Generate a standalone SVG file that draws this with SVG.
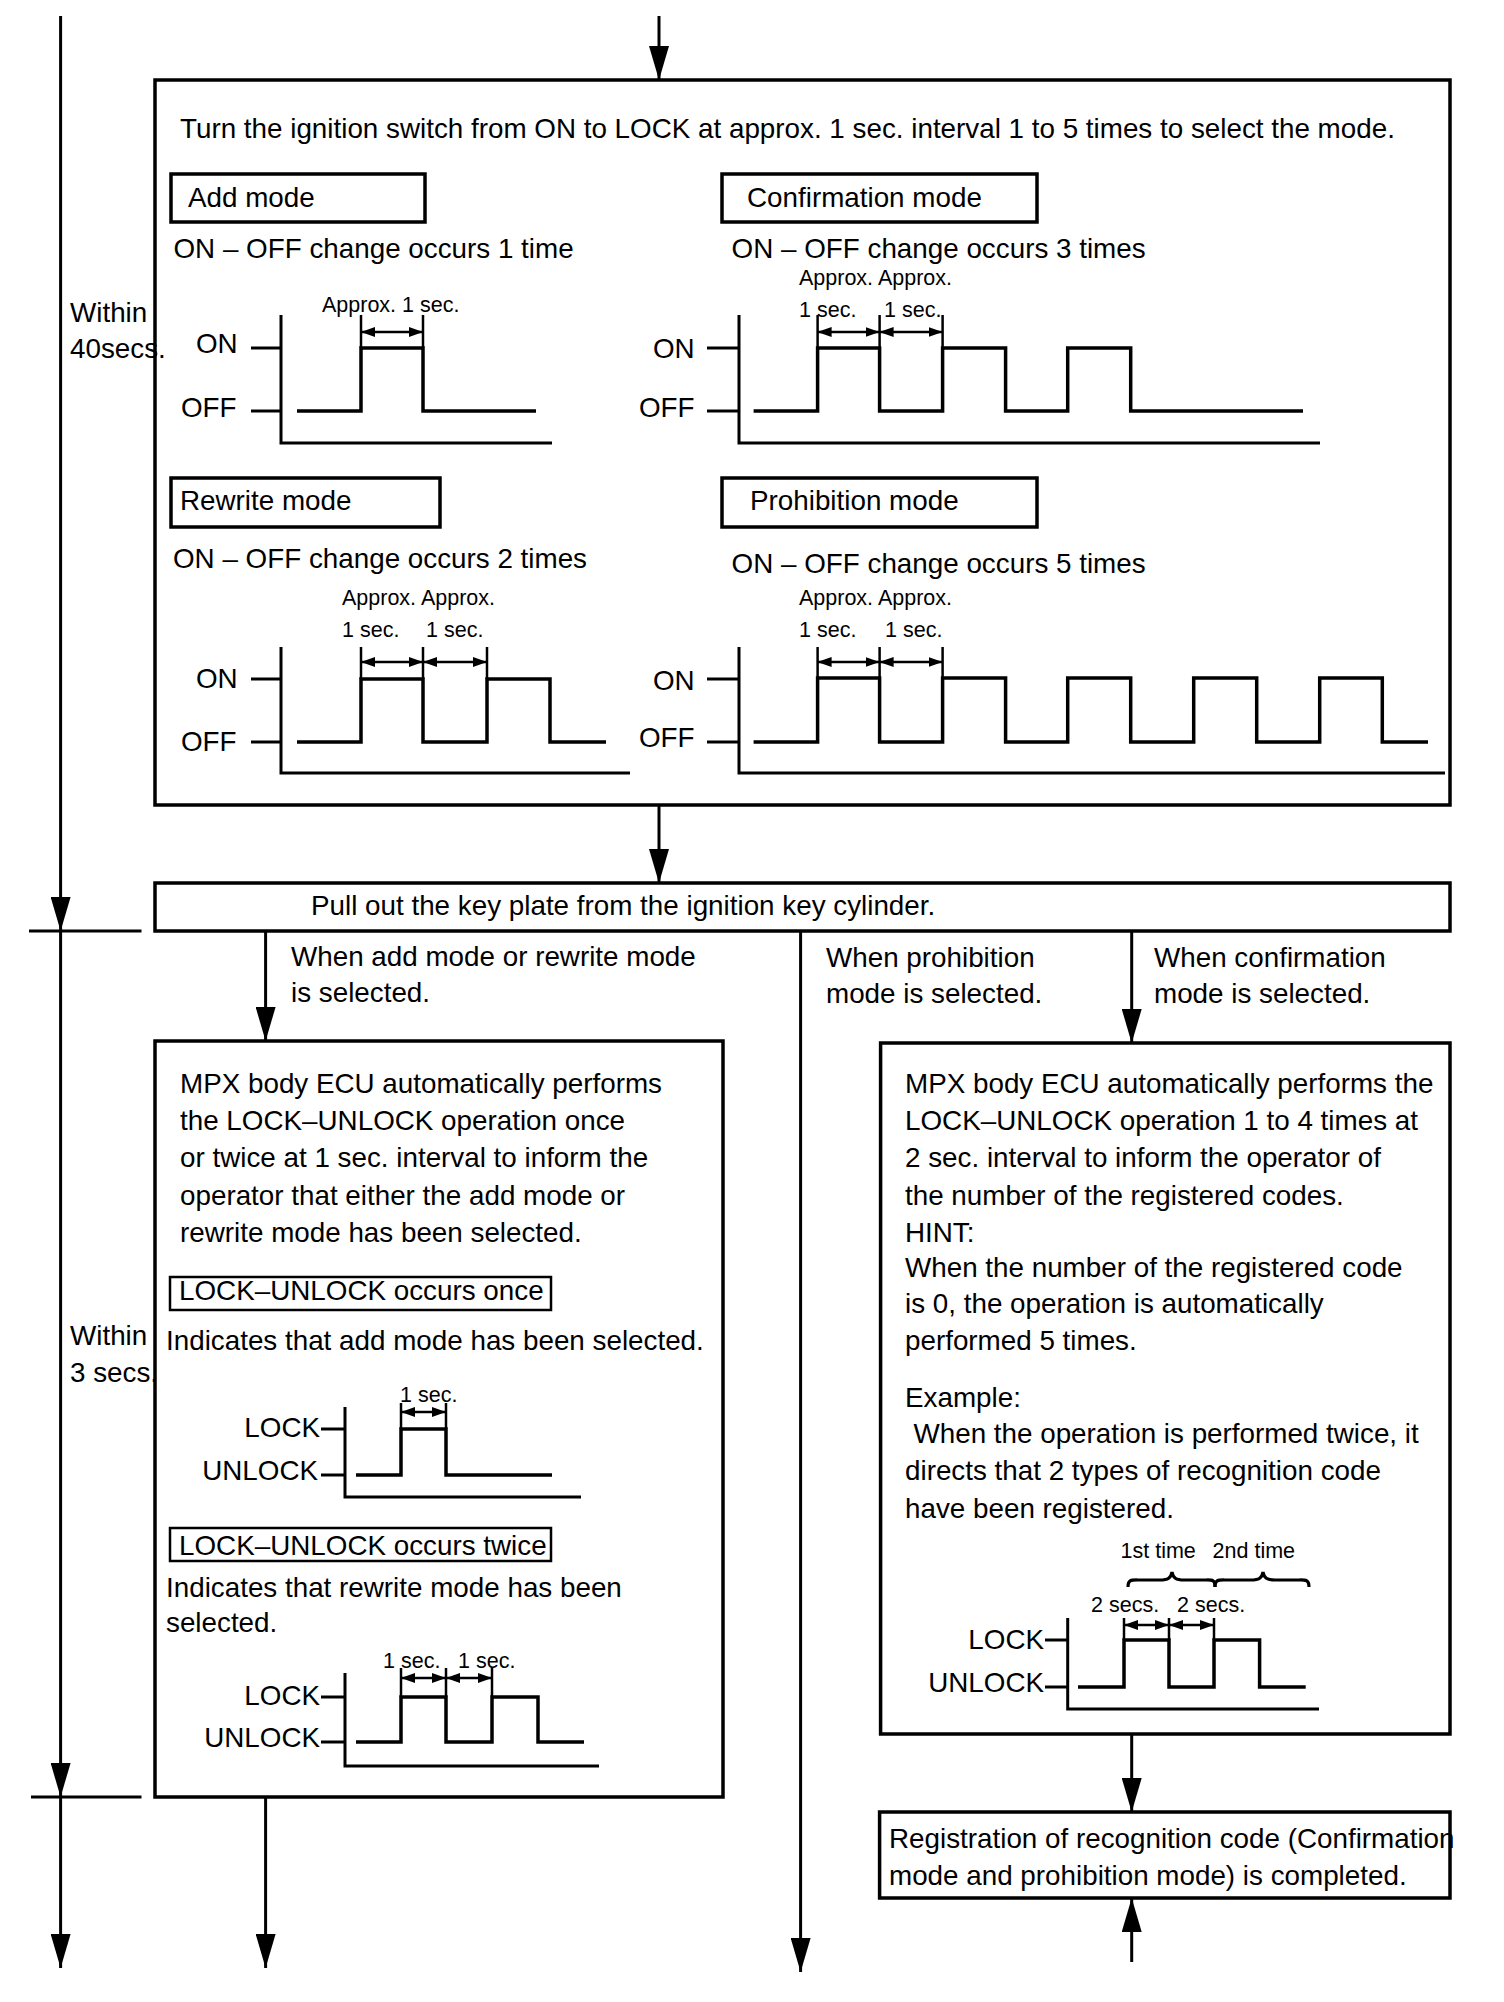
<svg xmlns="http://www.w3.org/2000/svg" width="1504" height="2002" viewBox="0 0 1504 2002">
<style>
text{font-family:"Liberation Sans",Arial,Helvetica,sans-serif;font-size:27.8px;fill:#000}
.s{font-size:21.5px}
.box{fill:none;stroke:#000;stroke-width:3.5}
.mbox{fill:none;stroke:#000;stroke-width:3.5}
.lbox{fill:none;stroke:#000;stroke-width:2.5}
.ln{fill:none;stroke:#000;stroke-width:3}
.ax{fill:none;stroke:#000;stroke-width:3}
.wv{fill:none;stroke:#000;stroke-width:3.5}
.dim{fill:none;stroke:#000;stroke-width:2.5}
.br{fill:none;stroke:#000;stroke-width:3.2}
.da{fill:none;stroke:#000;stroke-width:2.5;marker-start:url(#sa);marker-end:url(#sa)}
.arr{fill:none;stroke:#000;stroke-width:3;marker-end:url(#ah)}
</style>
<defs>
<marker id="ah" viewBox="0 0 34 20" refX="34" refY="10" markerWidth="34" markerHeight="20" markerUnits="userSpaceOnUse" orient="auto">
<path d="M0,0 L34,10 L0,20 z" fill="#000"/>
</marker>
<marker id="sa" viewBox="0 0 14 10" refX="14" refY="5" markerWidth="14" markerHeight="10" markerUnits="userSpaceOnUse" orient="auto-start-reverse">
<path d="M0,0 L14,5 L0,10 z" fill="#000"/>
</marker>
</defs>
<rect width="1504" height="2002" fill="#fff"/>

<g id="connectors">
<line class="arr" x1="60.6" y1="16" x2="60.6" y2="931"/>
<line class="arr" x1="60.6" y1="931" x2="60.6" y2="1797"/>
<line class="arr" x1="60.6" y1="1797" x2="60.6" y2="1968"/>
<line class="ln" x1="29" y1="931" x2="141.5" y2="931"/>
<line class="ln" x1="31" y1="1797" x2="141.5" y2="1797"/>
<line class="arr" x1="659" y1="16" x2="659" y2="80"/>
<line class="arr" x1="659" y1="805" x2="659" y2="883"/>
<line class="arr" x1="265.6" y1="931" x2="265.6" y2="1041"/>
<line class="arr" x1="1131.7" y1="931" x2="1131.7" y2="1043"/>
<line class="arr" x1="800.6" y1="931" x2="800.6" y2="1972"/>
<line class="arr" x1="265.6" y1="1797" x2="265.6" y2="1968"/>
<line class="arr" x1="1131.7" y1="1734" x2="1131.7" y2="1812"/>
<line class="arr" x1="1131.7" y1="1962" x2="1131.7" y2="1898"/>
</g>

<g id="timing-labels">
<text x="70" y="322">Within</text>
<text x="70" y="358">40secs.</text>
<text x="70" y="1345">Within</text>
<text x="70" y="1382">3 secs.</text>
</g>

<g id="select-mode">
<rect class="box" x="155" y="80" width="1295" height="725"/>
<text x="180" y="138">Turn the ignition switch from ON to LOCK at approx. 1 sec. interval 1 to 5 times to select the mode.</text>

<g id="add-mode">
<rect class="mbox" x="171" y="174" width="254" height="48"/>
<text x="188" y="207">Add mode</text>
<text x="173.5" y="258">ON – OFF change occurs 1 time</text>
<text class="s" x="322" y="312">Approx. 1 sec.</text>
<text x="196" y="353">ON</text>
<text x="181" y="417">OFF</text>
<polyline class="ax" points="281,315 281,443 552,443"/>
<line class="ax" x1="251" y1="348" x2="281" y2="348"/>
<line class="ax" x1="251" y1="411" x2="281" y2="411"/>
<polyline class="wv" points="297,411 361,411 361,348 423,348 423,411 536,411"/>
<line class="dim" x1="361" y1="315" x2="361" y2="348"/>
<line class="dim" x1="423" y1="315" x2="423" y2="348"/>
<line class="da" x1="361" y1="332" x2="423" y2="332"/>
</g>

<g id="confirmation-mode">
<rect class="mbox" x="722" y="174" width="315" height="48"/>
<text x="747" y="207">Confirmation mode</text>
<text x="731.6" y="258">ON – OFF change occurs 3 times</text>
<text class="s" x="799" y="285">Approx. Approx.</text>
<text class="s" x="799" y="317">1 sec.</text>
<text class="s" x="884" y="317">1 sec.</text>
<text x="653" y="358">ON</text>
<text x="639" y="417">OFF</text>
<polyline class="ax" points="739,315 739,443 1320,443"/>
<line class="ax" x1="707" y1="348" x2="739" y2="348"/>
<line class="ax" x1="707" y1="411" x2="739" y2="411"/>
<polyline class="wv" points="753.6,411 817.6,411 817.6,348 879.6,348 879.6,411 942.6,411 942.6,348 1005.6,348 1005.6,411 1067.7,411 1067.7,348 1130.7,348 1130.7,411 1303,411"/>
<line class="dim" x1="817.6" y1="315" x2="817.6" y2="348"/>
<line class="dim" x1="879.6" y1="315" x2="879.6" y2="348"/>
<line class="dim" x1="942.6" y1="315" x2="942.6" y2="348"/>
<line class="da" x1="817.6" y1="332" x2="879.6" y2="332"/>
<line class="da" x1="879.6" y1="332" x2="942.6" y2="332"/>
</g>

<g id="rewrite-mode">
<rect class="mbox" x="171" y="478" width="269" height="49"/>
<text x="180" y="510">Rewrite mode</text>
<text x="173" y="568">ON – OFF change occurs 2 times</text>
<text class="s" x="342" y="605">Approx. Approx.</text>
<text class="s" x="342" y="637">1 sec.</text>
<text class="s" x="426" y="637">1 sec.</text>
<text x="196" y="688">ON</text>
<text x="181" y="751">OFF</text>
<polyline class="ax" points="281,647 281,773 630,773"/>
<line class="ax" x1="251" y1="679" x2="281" y2="679"/>
<line class="ax" x1="251" y1="742" x2="281" y2="742"/>
<polyline class="wv" points="297,742 361,742 361,679 423,679 423,742 487,742 487,679 550,679 550,742 606,742"/>
<line class="dim" x1="361" y1="647" x2="361" y2="679"/>
<line class="dim" x1="423" y1="647" x2="423" y2="679"/>
<line class="dim" x1="487" y1="647" x2="487" y2="679"/>
<line class="da" x1="361" y1="662" x2="423" y2="662"/>
<line class="da" x1="423" y1="662" x2="487" y2="662"/>
</g>

<g id="prohibition-mode">
<rect class="mbox" x="722" y="478" width="315" height="49"/>
<text x="750" y="510">Prohibition mode</text>
<text x="731.6" y="573">ON – OFF change occurs 5 times</text>
<text class="s" x="799" y="605">Approx. Approx.</text>
<text class="s" x="799" y="637">1 sec.</text>
<text class="s" x="885" y="637">1 sec.</text>
<text x="653" y="690">ON</text>
<text x="639" y="747">OFF</text>
<polyline class="ax" points="739,647 739,773 1445,773"/>
<line class="ax" x1="707" y1="679" x2="739" y2="679"/>
<line class="ax" x1="707" y1="742" x2="739" y2="742"/>
<polyline class="wv" points="753.6,742 817.6,742 817.6,678 879.6,678 879.6,742 942.6,742 942.6,678 1005.6,678 1005.6,742 1067.7,742 1067.7,678 1130.7,678 1130.7,742 1193.7,742 1193.7,678 1256.7,678 1256.7,742 1319.7,742 1319.7,678 1382.3,678 1382.3,742 1428,742"/>
<line class="dim" x1="817.6" y1="647" x2="817.6" y2="678"/>
<line class="dim" x1="879.6" y1="647" x2="879.6" y2="678"/>
<line class="dim" x1="942.6" y1="647" x2="942.6" y2="678"/>
<line class="da" x1="817.6" y1="662" x2="879.6" y2="662"/>
<line class="da" x1="879.6" y1="662" x2="942.6" y2="662"/>
</g>
</g>

<g id="pull-out">
<rect class="box" x="155" y="883" width="1295" height="48"/>
<text x="311" y="915">Pull out the key plate from the ignition key cylinder.</text>
</g>

<g id="branch-labels">
<text x="291" y="966">When add mode or rewrite mode</text>
<text x="291" y="1002">is selected.</text>
<text x="826" y="967">When prohibition</text>
<text x="826" y="1003">mode is selected.</text>
<text x="1154" y="967">When confirmation</text>
<text x="1154" y="1003">mode is selected.</text>
</g>

<g id="add-rewrite-result">
<rect class="box" x="155" y="1041" width="568" height="756"/>
<text x="180" y="1093">MPX body ECU automatically performs</text>
<text x="180" y="1130">the LOCK–UNLOCK operation once</text>
<text x="180" y="1167">or twice at 1 sec. interval to inform the</text>
<text x="180" y="1205">operator that either the add mode or</text>
<text x="180" y="1242">rewrite mode has been selected.</text>
<rect class="lbox" x="170" y="1277" width="381" height="33"/>
<text x="179" y="1300">LOCK–UNLOCK occurs once</text>
<text x="166" y="1350">Indicates that add mode has been selected.</text>
<text class="s" x="400" y="1402">1 sec.</text>
<text x="320" y="1437" text-anchor="end">LOCK</text>
<text x="318" y="1480" text-anchor="end">UNLOCK</text>
<polyline class="ax" points="345,1407 345,1497 581,1497"/>
<line class="ax" x1="321" y1="1429" x2="345" y2="1429"/>
<line class="ax" x1="321" y1="1475" x2="345" y2="1475"/>
<polyline class="wv" points="356,1475 401,1475 401,1429 446,1429 446,1475 552,1475"/>
<line class="dim" x1="401" y1="1403" x2="401" y2="1429"/>
<line class="dim" x1="446" y1="1403" x2="446" y2="1429"/>
<line class="da" x1="401" y1="1412" x2="446" y2="1412"/>
<rect class="lbox" x="170" y="1528" width="381" height="33"/>
<text x="179" y="1555">LOCK–UNLOCK occurs twice</text>
<text x="166" y="1597">Indicates that rewrite mode has been</text>
<text x="166" y="1632">selected.</text>
<text class="s" x="383" y="1668">1 sec.</text>
<text class="s" x="458" y="1668">1 sec.</text>
<text x="320" y="1705" text-anchor="end">LOCK</text>
<text x="320" y="1747" text-anchor="end">UNLOCK</text>
<polyline class="ax" points="345,1673 345,1766 599,1766"/>
<line class="ax" x1="321" y1="1697" x2="345" y2="1697"/>
<line class="ax" x1="321" y1="1742" x2="345" y2="1742"/>
<polyline class="wv" points="356,1742 401,1742 401,1697 446,1697 446,1742 492,1742 492,1697 538,1697 538,1742 584,1742"/>
<line class="dim" x1="401" y1="1668" x2="401" y2="1697"/>
<line class="dim" x1="446" y1="1668" x2="446" y2="1697"/>
<line class="dim" x1="492" y1="1668" x2="492" y2="1697"/>
<line class="da" x1="401" y1="1678" x2="446" y2="1678"/>
<line class="da" x1="446" y1="1678" x2="492" y2="1678"/>
</g>

<g id="confirmation-result">
<rect class="box" x="880.6" y="1043" width="569.4" height="691"/>
<text x="905" y="1093">MPX body ECU automatically performs the</text>
<text x="905" y="1130">LOCK–UNLOCK operation 1 to 4 times at</text>
<text x="905" y="1167">2 sec. interval to inform the operator of</text>
<text x="905" y="1205">the number of the registered codes.</text>
<text x="905" y="1242">HINT:</text>
<text x="905" y="1277">When the number of the registered code</text>
<text x="905" y="1313">is 0, the operation is automatically</text>
<text x="905" y="1350">performed 5 times.</text>
<text x="905" y="1407">Example:</text>
<text x="913.5" y="1443">When the operation is performed twice, it</text>
<text x="905" y="1480">directs that 2 types of recognition code</text>
<text x="905" y="1518">have been registered.</text>
<text class="s" x="1120.5" y="1558">1st time</text>
<text class="s" x="1212.6" y="1558">2nd time</text>
<path class="br" d="M1128,1587 C1128,1579 1132,1580 1140,1580 L1160,1580 C1168,1580 1171,1578 1172,1572 C1173,1578 1176,1580 1184,1580 L1204,1580 C1212,1580 1215,1579 1215,1587"/>
<path class="br" d="M1215,1587 C1215,1579 1219,1580 1227,1580 L1251,1580 C1259,1580 1262,1578 1263,1572 C1264,1578 1267,1580 1275,1580 L1297,1580 C1305,1580 1309,1579 1309,1587"/>
<text class="s" x="1091" y="1612">2 secs.</text>
<text class="s" x="1177" y="1612">2 secs.</text>
<text x="1044" y="1649" text-anchor="end">LOCK</text>
<text x="1044" y="1692" text-anchor="end">UNLOCK</text>
<polyline class="ax" points="1067.7,1618 1067.7,1709 1319,1709"/>
<line class="ax" x1="1045" y1="1640" x2="1067.7" y2="1640"/>
<line class="ax" x1="1045" y1="1687" x2="1067.7" y2="1687"/>
<polyline class="wv" points="1078,1687 1124,1687 1124,1640 1169,1640 1169,1687 1214,1687 1214,1640 1259.6,1640 1259.6,1687 1305.7,1687"/>
<line class="dim" x1="1124" y1="1618" x2="1124" y2="1640"/>
<line class="dim" x1="1169" y1="1618" x2="1169" y2="1640"/>
<line class="dim" x1="1214" y1="1618" x2="1214" y2="1640"/>
<line class="da" x1="1124" y1="1625" x2="1169" y2="1625"/>
<line class="da" x1="1169" y1="1625" x2="1214" y2="1625"/>
</g>

<g id="registration-complete">
<rect class="box" x="879.6" y="1812" width="570.4" height="86"/>
<text x="889" y="1848">Registration of recognition code (Confirmation</text>
<text x="889" y="1885">mode and prohibition mode) is completed.</text>
</g>
</svg>
